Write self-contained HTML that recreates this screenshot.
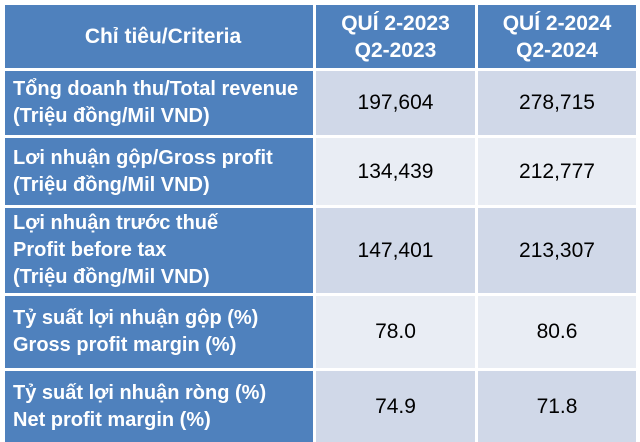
<!DOCTYPE html>
<html><head><meta charset="utf-8"><style>
body{margin:0;width:640px;height:442px;background:#fff;overflow:hidden;font-family:"Liberation Sans","DejaVu Sans",sans-serif}
.c{position:absolute;box-sizing:border-box;display:flex;align-items:center}
.b{background:#4F81BD;color:#fff;font-weight:bold;font-size:20px;line-height:27px;padding-left:8px;white-space:nowrap}
.h{justify-content:center;text-align:center;font-size:21px;line-height:27px}
.v{justify-content:center;font-size:21px;color:#000}
.d{background:#D0D8E8}.l{background:#E9EDF4}
</style></head><body>
<div>
<div class="c b h" style="left:5px;top:5px;width:308px;height:63px">Chỉ tiêu/Criteria</div>
<div class="c b h" style="left:316px;top:5px;width:159px;height:63px;padding:0">QUÍ 2-2023<br>Q2-2023</div>
<div class="c b h" style="left:478px;top:5px;width:158px;height:63px;padding:0">QUÍ 2-2024<br>Q2-2024</div>

<div class="c b" style="left:5px;top:71px;width:308px;height:64px">Tổng doanh thu/Total revenue<br>(Triệu đồng/Mil VND)</div>
<div class="c v d" style="left:316px;top:71px;width:159px;height:64px">197,604</div>
<div class="c v d" style="left:478px;top:71px;width:158px;height:64px">278,715</div>

<div class="c b" style="left:5px;top:138px;width:308px;height:67px">Lơi nhuận gộp/Gross profit<br>(Triệu đồng/Mil VND)</div>
<div class="c v l" style="left:316px;top:138px;width:159px;height:67px">134,439</div>
<div class="c v l" style="left:478px;top:138px;width:158px;height:67px">212,777</div>

<div class="c b" style="left:5px;top:208px;width:308px;height:85px">Lợi nhuận trước thuế<br>Profit before tax<br>(Triệu đồng/Mil VND)</div>
<div class="c v d" style="left:316px;top:208px;width:159px;height:85px">147,401</div>
<div class="c v d" style="left:478px;top:208px;width:158px;height:85px">213,307</div>

<div class="c b" style="left:5px;top:296px;width:308px;height:72px">Tỷ suất lợi nhuận gộp (%)<br>Gross profit margin (%)</div>
<div class="c v l" style="left:316px;top:296px;width:159px;height:72px">78.0</div>
<div class="c v l" style="left:478px;top:296px;width:158px;height:72px">80.6</div>

<div class="c b" style="left:5px;top:371px;width:308px;height:71px">Tỷ suất lợi nhuận ròng (%)<br>Net profit margin (%)</div>
<div class="c v d" style="left:316px;top:371px;width:159px;height:71px">74.9</div>
<div class="c v d" style="left:478px;top:371px;width:158px;height:71px">71.8</div>
</div>
</body></html>
